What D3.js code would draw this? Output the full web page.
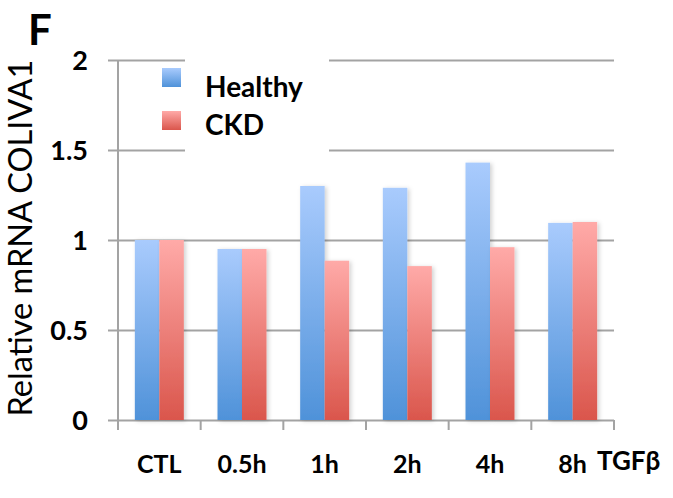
<!DOCTYPE html>
<html><head><meta charset="utf-8">
<script src="https://cdn.jsdelivr.net/npm/d3@7"></script>
<style>body{margin:0;background:#fff}svg{display:block}</style>
</head><body>
<svg id="c" width="673" height="498"></svg>
<script>
const categories = ["CTL","0.5h","1h","2h","4h","8h"];
const healthy = [1.0, 0.95, 1.30, 1.29, 1.43, 1.095];
const ckd = [1.0, 0.95, 0.885, 0.855, 0.96, 1.10];
const yTicks = [0, 0.5, 1, 1.5, 2];
const yTickLabels = ["0","0.5","1","1.5","2"];
const seriesNames = ["Healthy","CKD"];

(function(){
const svg = d3.select("#c");
const pL = 118, pR = 614, pT = 60, pB = 420;
const x = d3.scaleBand().domain(categories).range([pL, pR]);
const y = d3.scaleLinear().domain([0, 2]).range([pB, pT]);
const xs = d3.scaleBand().domain(seriesNames).range([0, 49]);
const FONT = "Lato, 'Open Sans', sans-serif";
const BW = "bold";

const defs = svg.append("defs");
function grad(id, c1, c2){
  const g = defs.append("linearGradient").attr("id", id).attr("x1",0).attr("y1",0).attr("x2",0).attr("y2",1);
  g.append("stop").attr("offset","0%").attr("stop-color",c1);
  g.append("stop").attr("offset","100%").attr("stop-color",c2);
}
grad("gb", "#a9cbfd", "#4f92d9");
grad("gr", "#ffaaa8", "#da564c");
const f = defs.append("filter").attr("id","sh").attr("x","-20%").attr("y","-10%").attr("width","150%").attr("height","120%");
f.append("feDropShadow").attr("dx",2).attr("dy",1).attr("stdDeviation",2).attr("flood-color","#000").attr("flood-opacity",0.18);

// gridlines
const yAxis = d3.axisLeft(y).tickValues(yTicks).tickSize(pR - pL + 10).tickFormat("");
const gy = svg.append("g").attr("transform", `translate(${pR},0)`).call(yAxis);
gy.select(".domain").remove();
gy.selectAll(".tick line").attr("stroke","#a3a3a3").attr("stroke-width",2);

// bars
const groups = svg.append("g").selectAll("g").data(categories).join("g")
  .attr("transform", d => `translate(${x(d) + (x.bandwidth() - 49)/2},0)`);
groups.append("rect").attr("x", xs("Healthy")).attr("width", xs.bandwidth())
  .attr("y", (d,i) => y(healthy[i])).attr("height", (d,i) => y(0) - y(healthy[i]))
  .attr("fill","url(#gb)").attr("filter","url(#sh)");
groups.append("rect").attr("x", xs("CKD")).attr("width", xs.bandwidth())
  .attr("y", (d,i) => y(ckd[i])).attr("height", (d,i) => y(0) - y(ckd[i]))
  .attr("fill","url(#gr)").attr("filter","url(#sh)");

// y axis line
svg.append("line").attr("x1",pL).attr("x2",pL).attr("y1",pT).attr("y2",pB+10)
  .attr("stroke","#a3a3a3").attr("stroke-width",2);
// x axis ticks
const xTickPos = categories.map(c => x(c)).concat([pR]);
svg.append("g").selectAll("line").data(xTickPos).join("line")
  .attr("x1", d=>d).attr("x2", d=>d).attr("y1", pB).attr("y2", pB+10)
  .attr("stroke","#a3a3a3").attr("stroke-width",2);

// legend white box
svg.append("rect").attr("x",185).attr("y",50).attr("width",144).attr("height",110).attr("fill","#fff");
const leg = [["Healthy","url(#gb)",68,97],["CKD","url(#gr)",111,135]];
leg.forEach(([n,fill,ry,ty]) => {
  svg.append("rect").attr("x",162).attr("y",ry).attr("width",19).attr("height",19).attr("fill",fill);
  svg.append("text").attr("x",205).attr("y",ty).text(n)
    .attr("font-family",FONT).attr("font-weight",BW).attr("font-size",28);
});

// y tick labels
svg.append("g").selectAll("text").data(yTicks).join("text")
  .attr("x", 88).attr("y", d => y(d)).attr("dy","0.36em").attr("text-anchor","end")
  .text((d,i)=>yTickLabels[i])
  .attr("font-family",FONT).attr("font-weight",BW).attr("font-size",27);

// x labels
svg.append("g").selectAll("text").data(categories).join("text")
  .attr("x", d => x(d) + x.bandwidth()/2).attr("y", 473).attr("text-anchor","middle")
  .text(d=>d)
  .attr("font-family",FONT).attr("font-weight",BW).attr("font-size",25);
svg.append("text").attr("x",597).attr("y",470).text("TGFβ")
  .attr("font-family",FONT).attr("font-weight",BW).attr("font-size",26);

// y title
svg.append("text").attr("transform","translate(32,238) rotate(-90)").attr("text-anchor","middle")
  .text("Relative mRNA COLIVA1")
  .attr("font-family",FONT).attr("font-size",32.5);

// panel letter
svg.append("text").attr("x",28).attr("y",45).text("F")
  .attr("font-family",FONT).attr("font-weight",BW).attr("font-size",42);
})();
</script>
</body></html>
